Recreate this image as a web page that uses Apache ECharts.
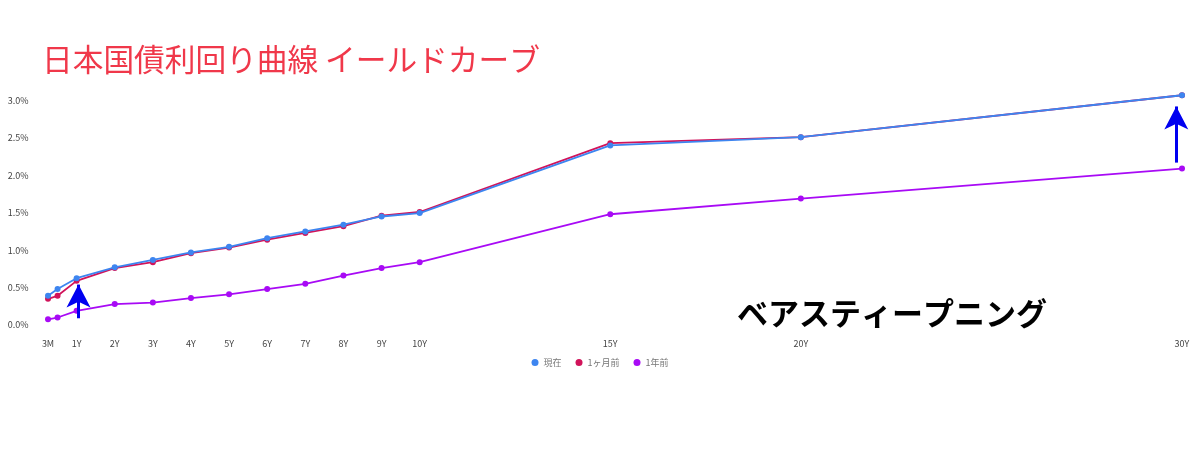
<!DOCTYPE html>
<html>
<head>
<meta charset="utf-8">
<script src="https://cdn.jsdelivr.net/npm/echarts@6/dist/echarts.min.js"></script>
<style>
  html, body { margin: 0; padding: 0; background: #fff; }
  #chart { width: 1200px; height: 450px; }
</style>
</head>
<body>
<div id="chart"></div>
<script>
// maturities in years, and their labels
var maturities = [0.25, 0.5, 1, 2, 3, 4, 5, 6, 7, 8, 9, 10, 15, 20, 30]
var tickValues = [0.25, 1, 2, 3, 4, 5, 6, 7, 8, 9, 10, 15, 20, 30]
var tickLabels = ['3M', '1Y', '2Y', '3Y', '4Y', '5Y', '6Y', '7Y', '8Y', '9Y', '10Y', '15Y', '20Y', '30Y']
var yTicks = [0, 0.5, 1, 1.5, 2, 2.5, 3]

// yields (%)
var now = [0.39, 0.48, 0.625, 0.77, 0.87, 0.97, 1.045, 1.16, 1.25, 1.34, 1.45, 1.495, 2.40, 2.51, 3.07]
var monthAgo = [0.35, 0.39, 0.59, 0.76, 0.84, 0.96, 1.035, 1.14, 1.23, 1.32, 1.46, 1.51, 2.43, 2.51, 3.07]
var yearAgo = [0.076, 0.10, 0.19, 0.28, 0.30, 0.36, 0.41, 0.48, 0.55, 0.66, 0.76, 0.84, 1.48, 1.69, 2.09]

// arrows drawn on the chart: [x, yFrom, yTo]
var arrows = [[1.05, 0.09, 0.54], [29.85, 2.17, 2.92]]

function pairs(vals) {
    return maturities.map(function (m, i) { return [m, vals[i]] })
}

var chart = echarts.init(document.getElementById('chart'))

var arrowLine = {
    silent: true,
    symbol: ['none', 'arrow'],
    symbolSize: [18, 23],
    label: { show: false },
    lineStyle: { color: '#0000f0', width: 3, type: 'solid' },
    data: arrows.map(function (a) {
        return [{ coord: [a[0], a[1]] }, { coord: [a[0], a[2]] }]
    })
}

function lineSeries(name, vals, color, z) {
    return {
        name: name,
        type: 'line',
        data: pairs(vals),
        z: z,
        symbol: 'circle',
        symbolSize: 6,
        itemStyle: { color: color },
        lineStyle: { color: color, width: 1.8 }
    }
}

var series = [
    lineSeries('1年前', yearAgo, '#a80af5', 2),
    lineSeries('1ヶ月前', monthAgo, '#d1135a', 3),
    lineSeries('現在', now, '#3d85f0', 4)
]
series[0].markLine = arrowLine

chart.setOption({
    animation: false,
    textStyle: { fontFamily: '"Noto Sans CJK JP", "Noto Sans", sans-serif' },
    title: {
        text: '日本国債利回り曲線 イールドカーブ',
        left: 37,
        top: 39,
        textStyle: { color: '#f0384a', fontSize: 30.7, fontWeight: 'normal' }
    },
    legend: {
        data: ['現在', '1ヶ月前', '1年前'],
        bottom: 78,
        left: 'center',
        icon: 'circle',
        itemWidth: 7,
        itemHeight: 7,
        itemGap: 14,
        textStyle: { color: '#777', fontSize: 9 }
    },
    grid: { left: 38.5, right: 18, top: 93, bottom: 125 },
    xAxis: {
        type: 'value',
        min: 0,
        max: 30,
        axisLine: { show: false },
        axisTick: { show: false },
        splitLine: { show: false },
        axisLabel: {
            customValues: tickValues,
            color: '#444',
            fontSize: 9,
            margin: 14,
            formatter: function (v) {
                var i = tickValues.indexOf(v)
                return i >= 0 ? tickLabels[i] : ''
            }
        }
    },
    yAxis: {
        type: 'value',
        min: 0,
        max: 3.1,
        axisLine: { show: false },
        axisTick: { show: false },
        splitLine: { show: false },
        axisLabel: {
            customValues: yTicks,
            color: '#444',
            fontSize: 9,
            margin: 10,
            formatter: function (v) { return v.toFixed(1) + '%' }
        }
    },
    graphic: [{
        type: 'text',
        left: 737,
        top: 298,
        style: {
            text: 'ベアスティープニング',
            fill: '#000',
            font: 'bold 31px "Noto Sans CJK JP", sans-serif'
        }
    }],
    series: series
})
</script>
</body>
</html>
